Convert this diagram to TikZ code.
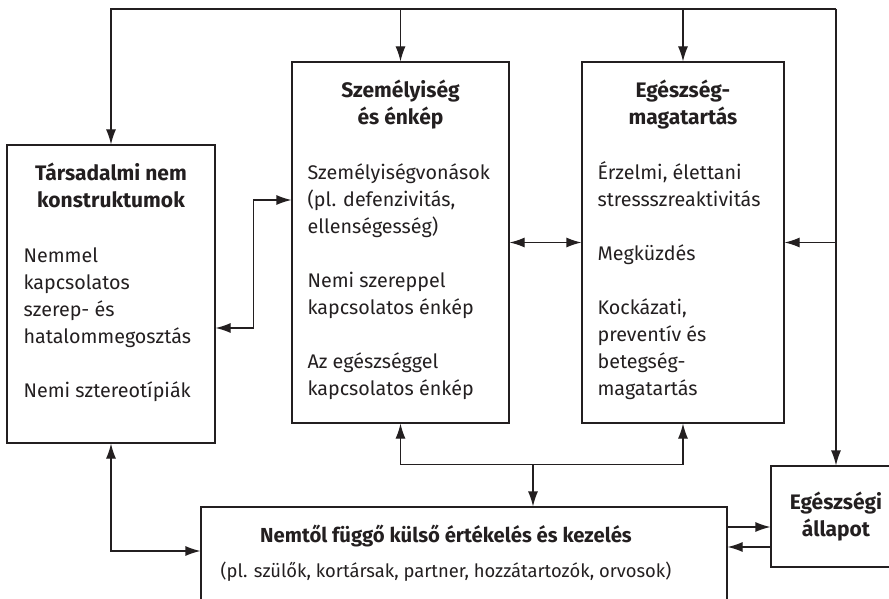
\documentclass[tikz,border=0pt]{standalone}
\usepackage{fontspec}
\setmainfont{Fira Sans}
\usetikzlibrary{arrows.meta}
\definecolor{ink}{HTML}{231F20}
\begin{document}
\fontsize{19.7}{27}\selectfont
\begin{tikzpicture}[
        x=1pt, y=-1pt,
        every node/.style={text=ink},
        box/.style={rectangle, draw=ink, line width=1.2pt, inner sep=0pt},
        title/.style={anchor=north, inner sep=0pt, align=center, font=\fontsize{21}{27}\selectfont\bfseries},
        body/.style={anchor=north west, inner sep=0pt, align=left},
        arrow/.style={->, >={Latex[length=15pt,width=10pt]}, draw=ink, line width=1.2pt},
        biarrow/.style={arrow, <->}
    ]
        \useasboundingbox (0,0) rectangle (889,599);
        \clip (0,0) rectangle (889,599);

        % Tarsadalmi nem konstruktumok
        \node[box, minimum width=208pt, minimum height=298pt] (tars) at (111,294) {};
        \node[title] (tarsT) at ([yshift=-17pt]tars.north) {\strut Társadalmi nem\\konstruktumok};
        \node[body] (tarsB) at ([xshift=17pt,yshift=-99pt]tars.north west) {\strut Nemmel\\kapcsolatos\\szerep- és\\hatalommegosztás\\[27pt]Nemi sztereotípiák};

        % Szemelyiseg es enkep
        \node[box, minimum width=217pt, minimum height=361pt] (szem) at (400.5,242.5) {};
        \node[title] (szemT) at ([yshift=-17pt]szem.north) {\strut Személyiség\\és énkép};
        \node[body] (szemB) at ([xshift=16pt,yshift=-99pt]szem.north west) {\strut Személyiségvonások\\(pl. defenzivitás,\\ellenségesség)\\[27pt]Nemi szereppel\\kapcsolatos énkép\\[27pt]Az egészséggel\\kapcsolatos énkép};

        % Egeszseg-magatartas
        \node[box, minimum width=202pt, minimum height=361pt] (egesz) at (683,242.5) {};
        \node[title] (egeszT) at ([yshift=-17pt]egesz.north) {\strut Egészség-\\magatartás};
        \node[body] (egeszB) at ([xshift=16pt,yshift=-99pt]egesz.north west) {\strut Érzelmi, élettani\\stressszreaktivitás\\[27pt]Megküzdés\\[27pt]Kockázati,\\preventív és\\betegség-\\magatartás};

        % Egeszsegi allapot
        \node[box, font=\fontsize{21}{27}\selectfont\bfseries, align=center, minimum width=130pt, minimum height=101pt] (allapot) at (836,516.5) {Egészségi\\állapot};

        % Nemtol fuggo kulso ertekeles
        \node[box, minimum width=526pt, minimum height=110pt] (kulso) at (464,562) {};
        \node[anchor=north, inner sep=0pt, align=center, font=\fontsize{18.4}{27}\selectfont] (kulsoT) at ([xshift=-18pt,yshift=-17pt]kulso.north) {\strut{\fontsize{20.3}{27}\selectfont\bfseries Nemtől függő külső értékelés és kezelés}\\[8pt](pl. szülők, kortársak, partner, hozzátartozók, orvosok)};

        % Arrows
        \coordinate (bus) at (0,9);
        \draw[arrow] (allapot.north |- bus) -| (tars.north);
        \draw[arrow] (szem.north |- bus) -- (szem.north);
        \draw[arrow] (egesz.north |- bus) -- (egesz.north);
        \draw[arrow] (allapot.north |- bus) -- (allapot.north);
        \draw[arrow] (allapot.north |- egesz.east) -- (egesz.east);

        \draw[biarrow] ([yshift=-34pt]tars.east) -- ++(38,0) |- ([yshift=42.5pt]szem.west);
        \draw[biarrow] (szem.east) -- (egesz.west);
        \draw[biarrow] (szem.south) -- ++(0,41) -| (egesz.south);
        \coordinate (split) at (533,464);
        \draw[arrow] (split) -- (split |- kulso.north);
        \draw[biarrow] (tars.south) |- ([yshift=11pt]kulso.west);

        \coordinate (toState) at ([yshift=-10.5pt]allapot.west);
        \coordinate (fromState) at ([yshift=-30.5pt]allapot.west);
        \draw[arrow] (kulso.east |- toState) -- (toState);
        \draw[arrow] (fromState) -- (kulso.east |- fromState);
    \end{tikzpicture}
\end{document}
